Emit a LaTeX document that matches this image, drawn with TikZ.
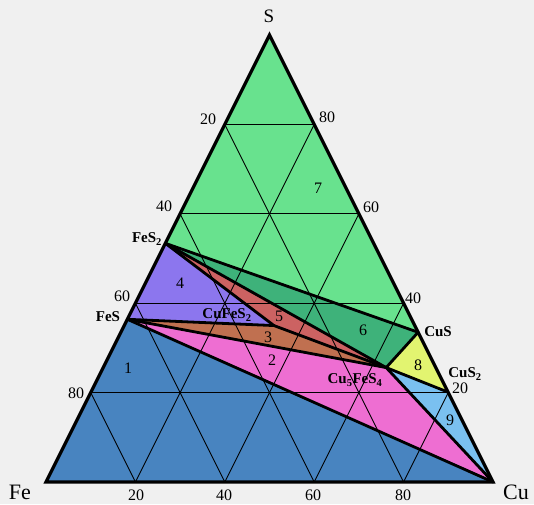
\documentclass[tikz,border=0pt]{standalone}
\usepackage{fontspec}
\setmainfont{Liberation Serif}
\definecolor{bg}{RGB}{240,240,240}
\definecolor{cSeven}{RGB}{104,226,142}
\definecolor{cSix}{RGB}{62,178,122}
\definecolor{cFive}{RGB}{204,98,98}
\definecolor{cFour}{RGB}{140,118,238}
\definecolor{cThree}{RGB}{192,112,80}
\definecolor{cTwo}{RGB}{238,110,210}
\definecolor{cOne}{RGB}{72,132,192}
\definecolor{cEight}{RGB}{226,244,112}
\definecolor{cNine}{RGB}{122,192,240}
\begin{document}
\begin{tikzpicture}[x=1pt,y=-1pt,
  tie/.style={line width=2.8pt,line join=round,line cap=round},
  gridline/.style={line width=0.9pt},
  lbl/.style={font=\fontsize{16}{16}\selectfont,inner sep=0pt},
  cmp/.style={font=\fontsize{15}{15}\selectfont\bfseries,inner sep=0pt},
  corner/.style={font=\fontsize{22}{22}\selectfont,inner sep=0pt}]
\fill[bg] (0,0) rectangle (534,504);
\useasboundingbox (0,0) rectangle (534,504);
% corners
\coordinate (Fe) at (46,482);
\coordinate (Cu) at (493,482);
\coordinate (S) at (269.5,35);
% compounds (weight %)
\coordinate (FeSS) at (barycentric cs:Fe=0.466,S=0.534);
\coordinate (FeS) at (barycentric cs:Fe=0.636,S=0.364);
\coordinate (CuS) at (barycentric cs:Cu=0.665,S=0.335);
\coordinate (CuSS) at (barycentric cs:Cu=0.799,S=0.201);
\coordinate (Bn) at (barycentric cs:Cu=0.633,Fe=0.111,S=0.256);
\coordinate (Cp) at (barycentric cs:Cu=0.335,Fe=0.315,S=0.35);
% regions
\fill[cSeven] (S) -- (FeSS) -- (CuS) -- cycle;
\fill[cSix] (FeSS) -- (Bn) -- (CuS) -- cycle;
\fill[cFive] (FeSS) -- (Cp) -- (Bn) -- cycle;
\fill[cFour] (FeSS) -- (FeS) -- (Cp) -- cycle;
\fill[cThree] (FeS) -- (Bn) -- (Cp) -- cycle;
\fill[cTwo] (FeS) -- (Cu) -- (Bn) -- cycle;
\fill[cOne] (Fe) -- (Cu) -- (FeS) -- cycle;
\fill[cEight] (CuS) -- (Bn) -- (CuSS) -- cycle;
\fill[cNine] (Bn) -- (Cu) -- (CuSS) -- cycle;
% grid
\foreach \k/\m in {0.2/0.8,0.4/0.6,0.6/0.4,0.8/0.2}{
  \draw[gridline] (barycentric cs:Fe=\m,S=\k) -- (barycentric cs:Cu=\m,S=\k);
  \draw[gridline] (barycentric cs:Fe=\m,Cu=\k) -- (barycentric cs:Cu=\k,S=\m);
  \draw[gridline] (barycentric cs:Cu=\m,Fe=\k) -- (barycentric cs:Fe=\k,S=\m);
}
% tie lines
\draw[tie] (FeSS) -- (CuS);
\draw[tie] (FeSS) -- (Bn);
\draw[tie] (FeSS) -- (Cp);
\draw[tie] (FeS) -- (Cp);
\draw[tie] (Cp) -- (Bn);
\draw[tie] (FeS) -- (Bn);
\draw[tie] (FeS) -- (Cu);
\draw[tie] (Bn) -- (Cu);
\draw[tie] (CuS) -- (Bn);
\draw[tie] (Bn) -- (CuSS);
\draw[tie,line width=3.2pt,line cap=butt,line join=miter] (Fe) -- (Cu) -- (S) -- cycle;
% corner labels
\node[corner,font=\fontsize{19}{19}\selectfont] (lS) at (269,16) {S};
\node[corner] (lFe) at (20,492) {Fe};
\node[corner] (lCu) at (516,492) {Cu};
% tick labels
\node[lbl] (l20) at (208,119) {20};
\node[lbl] (l40) at (164,206) {40};
\node[lbl] (l60) at (122,296) {60};
\node[lbl] (l80) at (76,393) {80};
\node[lbl] (r80) at (327,117) {80};
\node[lbl] (r60) at (371,207) {60};
\node[lbl] (r40) at (413,298) {40};
\node[lbl] (r20) at (460,388) {20};
\node[lbl] (b20) at (136,495) {20};
\node[lbl] (b40) at (224,495) {40};
\node[lbl] (b60) at (313,495) {60};
\node[lbl] (b80) at (403,495) {80};
% compound labels
\node[cmp] (tFeSS) at (147,239) {FeS\textsubscript{2}};
\node[cmp] (tFeS) at (108,317) {FeS};
\node[cmp] (tCuS) at (438,332) {CuS};
\node[cmp] (tCuSS) at (465,374) {CuS\textsubscript{2}};
\node[cmp] (tCp) at (227,315) {CuFeS\textsubscript{2}};
\node[cmp] (tBn) at (355,380) {Cu\textsubscript{5}FeS\textsubscript{4}};
% region numbers
\node[lbl] (n1) at (128,368) {1};
\node[lbl] (n2) at (272,360) {2};
\node[lbl] (n3) at (268,337) {3};
\node[lbl] (n4) at (180,283) {4};
\node[lbl] (n5) at (279,316) {5};
\node[lbl] (n6) at (363,330) {6};
\node[lbl] (n7) at (318,188) {7};
\node[lbl] (n8) at (418,365) {8};
\node[lbl] (n9) at (450,420) {9};
\end{tikzpicture}
\end{document}
